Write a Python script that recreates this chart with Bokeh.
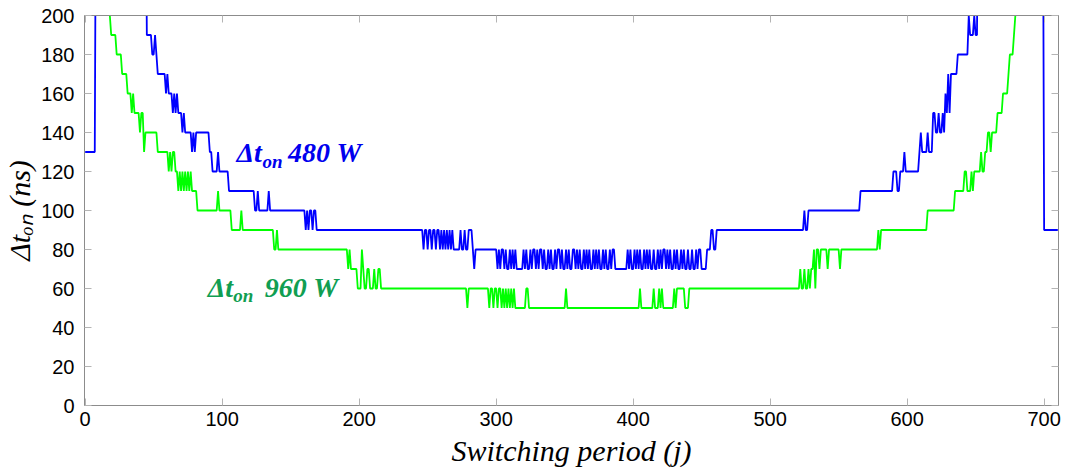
import numpy as np
from bokeh.plotting import figure
from bokeh.models import Range1d, LinearAxis, FixedTicker, Label, CustomJSTickFormatter
from bokeh.embed import file_html
from bokeh.resources import INLINE

# ---------------- data ----------------
# switching periods j = 0 .. 710
n_periods = 711
# step breakpoints: (period j where the level changes, new Δt_on in ns); 300 = off scale (above 200)
blue_480W_steps = [
    (0, 130), (8, 300), (45, 190), (49, 180), (51, 190), (52, 180), (53, 170), (59, 160), (60, 170),
    (61, 160), (64, 150), (65, 160), (66, 150), (67, 160), (68, 150), (71, 140), (72, 150), (73, 140),
    (78, 130), (79, 140), (80, 130), (81, 140), (91, 130), (93, 120), (97, 130), (98, 120), (105, 110),
    (124, 100), (126, 110), (127, 100), (134, 110), (135, 100), (161, 90), (162, 100), (163, 90),
    (164, 100), (166, 90), (167, 100), (169, 90),
    (247, 80), (248, 90), (250, 80), (251, 90), (253, 80), (254, 90), (256, 80), (257, 90), (259, 80),
    (260, 90), (261, 80), (262, 90), (263, 80), (264, 90), (265, 80), (266, 90), (267, 80), (268, 90),
    (269, 80), (274, 90), (275, 80), (277, 90), (278, 80), (280, 90), (283, 80), (284, 70), (285, 80),
    (301, 70), (302, 80), (303, 70), (304, 80), (306, 70), (307, 80), (308, 70), (310, 80), (311, 70),
    (312, 80), (313, 70), (314, 80), (315, 70), (320, 80), (321, 70), (322, 80), (323, 70), (325, 80),
    (326, 70), (327, 80), (329, 70), (330, 80), (331, 70), (332, 80), (334, 70), (335, 80), (336, 70),
    (338, 80), (339, 70), (340, 80), (341, 70), (343, 80), (344, 70), (345, 80), (347, 70), (348, 80),
    (349, 70), (351, 80), (352, 70), (353, 80), (354, 70), (356, 80), (358, 70), (359, 80), (360, 70),
    (361, 80), (362, 70), (364, 80), (365, 70), (366, 80), (367, 70), (368, 80), (369, 70), (371, 80),
    (372, 70), (373, 80), (374, 70), (375, 80), (376, 70), (378, 80), (379, 70), (380, 80), (381, 70),
    (383, 80), (384, 70), (385, 80), (387, 70), (396, 80), (397, 70), (398, 80), (399, 70), (401, 80),
    (402, 70), (403, 80), (404, 70), (405, 80), (406, 70), (408, 80), (409, 70), (410, 80), (411, 70),
    (412, 80), (413, 70), (415, 80), (416, 70), (418, 80), (419, 70), (420, 80), (421, 70), (422, 80),
    (424, 70), (425, 80), (426, 70), (427, 80), (428, 70), (430, 80), (431, 70), (432, 80), (433, 70),
    (435, 80), (436, 70), (437, 80), (438, 70), (440, 80), (441, 70), (443, 80), (444, 70), (446, 80),
    (447, 70), (448, 80), (450, 70),
    (454, 80), (457, 90), (459, 80), (461, 90), (525, 100), (526, 90), (528, 100), (566, 110),
    (590, 120), (593, 110), (595, 120), (598, 130), (599, 120), (609, 130), (610, 140), (611, 130),
    (615, 140), (616, 130), (619, 150), (621, 140), (623, 150), (624, 140), (626, 150), (627, 140),
    (628, 160), (629, 150), (630, 170), (631, 150), (632, 170), (637, 180), (645, 200), (646, 190),
    (649, 200), (650, 190), (652, 300), (700, 90),
]
green_960W_steps = [
    (0, 300), (18, 200), (19, 190), (23, 180), (27, 170), (31, 160), (34, 150), (35, 160), (36, 150),
    (40, 140), (41, 150), (43, 130), (44, 140), (53, 130), (61, 120), (62, 130), (63, 120), (64, 130),
    (66, 120), (68, 110), (69, 120), (70, 110), (71, 120), (72, 110), (73, 120), (74, 110), (75, 120),
    (76, 110), (77, 120), (78, 110), (82, 100), (97, 110), (98, 100), (107, 90), (114, 100), (115, 90),
    (138, 80), (140, 90), (141, 80), (192, 70), (193, 80), (194, 70), (199, 60), (202, 80), (203, 70),
    (204, 60), (206, 70), (208, 60), (211, 70), (212, 60), (214, 70), (216, 60), (279, 50), (280, 60),
    (295, 50), (296, 60), (298, 50), (299, 60), (301, 50), (302, 60), (304, 50), (305, 60), (306, 50),
    (307, 60), (308, 50), (309, 60), (310, 50), (311, 60), (312, 50), (313, 60), (314, 50), (322, 60),
    (324, 50), (351, 60), (352, 50), (405, 60), (406, 50), (415, 60), (416, 50), (419, 60), (420, 50),
    (421, 60), (422, 50), (430, 60), (431, 50), (432, 60), (438, 50), (441, 60), (522, 70), (523, 60),
    (525, 70), (526, 60), (528, 70), (529, 60), (530, 70), (532, 80), (533, 60), (534, 80), (536, 70),
    (537, 80), (542, 70), (543, 80), (551, 70), (552, 80), (579, 90), (580, 80), (581, 90), (615, 100),
    (635, 110), (642, 120), (644, 110), (647, 120), (648, 110), (649, 120), (654, 130), (655, 120),
    (657, 130), (659, 140), (661, 130), (662, 140), (666, 150), (670, 160), (674, 170), (675, 180),
    (678, 190), (679, 200), (680, 300),
]
x_ticks = [0, 100, 200, 300, 400, 500, 600, 700]
y_ticks = [0, 20, 40, 60, 80, 100, 120, 140, 160, 180, 200]
x_title = "Switching period (j)"
y_title = "Δtₒₙ (ns)"


def expand(steps):
    js = np.array([s[0] for s in steps])
    vs = np.array([s[1] for s in steps], dtype=float)
    periods = np.arange(n_periods)
    idx = np.searchsorted(js, periods, side="right") - 1
    return periods, vs[idx]


bx, by = expand(blue_480W_steps)
gx, gy = expand(green_960W_steps)

# ---------------- figure ----------------
p = figure(width=1067, height=474, output_backend="svg", toolbar_location=None,
           x_range=Range1d(-0.5, 710.5), y_range=Range1d(0, 200),
           min_border_left=83, min_border_right=9, min_border_top=15, min_border_bottom=69)
p.background_fill_color = "white"
p.border_fill_color = "white"
p.outline_line_color = "#8c8c8c"
p.xgrid.visible = False
p.ygrid.visible = False

p.line(gx, gy, line_color="#00ff00", line_width=1.8)
p.line(bx, by, line_color="#0000ff", line_width=1.8)

serif = "Liberation Serif"
tick_font = "Liberation Sans"
for ax in (p.xaxis[0], p.yaxis[0]):
    ax.axis_line_color = "#8c8c8c"
    ax.major_tick_line_color = "#b4b4b4"
    ax.major_tick_in = 7
    ax.major_tick_out = 0
    ax.minor_tick_line_color = None
    ax.major_label_text_font = tick_font
    ax.major_label_text_font_size = "20px"
    ax.major_label_text_color = "black"
    ax.axis_label_text_font = serif
    ax.axis_label_text_font_style = "italic"
    ax.axis_label_text_font_size = "30px"
    ax.axis_label_text_color = "black"
p.xaxis[0].ticker = FixedTicker(ticks=x_ticks)
p.yaxis[0].ticker = FixedTicker(ticks=y_ticks)
p.xaxis[0].major_label_standoff = 6
p.yaxis[0].major_label_standoff = 10
p.xaxis[0].axis_label = x_title
p.yaxis[0].axis_label = y_title
p.xaxis[0].axis_label_standoff = 5
p.yaxis[0].axis_label_standoff = 2

blank = CustomJSTickFormatter(code="return ''")
top_ax = LinearAxis(ticker=FixedTicker(ticks=x_ticks), formatter=blank)
right_ax = LinearAxis(ticker=FixedTicker(ticks=y_ticks), formatter=blank)
for ax in (top_ax, right_ax):
    ax.axis_line_color = "#8c8c8c"
    ax.major_tick_line_color = "#b4b4b4"
    ax.major_tick_in = 7
    ax.major_tick_out = 0
    ax.minor_tick_line_color = None
    ax.major_label_standoff = 0
    ax.major_label_text_font_size = "0px"
p.add_layout(top_ax, "above")
p.add_layout(right_ax, "right")


# series labels (inside the frame)
def series_label(x0, xs, xn, yb, ys, num, color):
    p.add_layout(Label(x=x0, y=yb, text="Δt", text_font=serif, text_font_style="bold italic",
                       text_font_size="28px", text_color=color, text_baseline="alphabetic"))
    p.add_layout(Label(x=xs, y=ys, text="on", text_font=serif, text_font_style="bold italic",
                       text_font_size="19px", text_color=color, text_baseline="alphabetic"))
    p.add_layout(Label(x=xn, y=yb, text=num, text_font=serif, text_font_style="bold italic",
                       text_font_size="28px", text_color=color, text_baseline="alphabetic"))


series_label(110.5, 129.5, 148.0, 129.7, 125.3, "480 W", "#0000ee")
series_label(89.5, 108.0, 131.0, 60.5, 56.2, "960 W", "#109e52")

open("out.html", "w").write(file_html(p, INLINE))
